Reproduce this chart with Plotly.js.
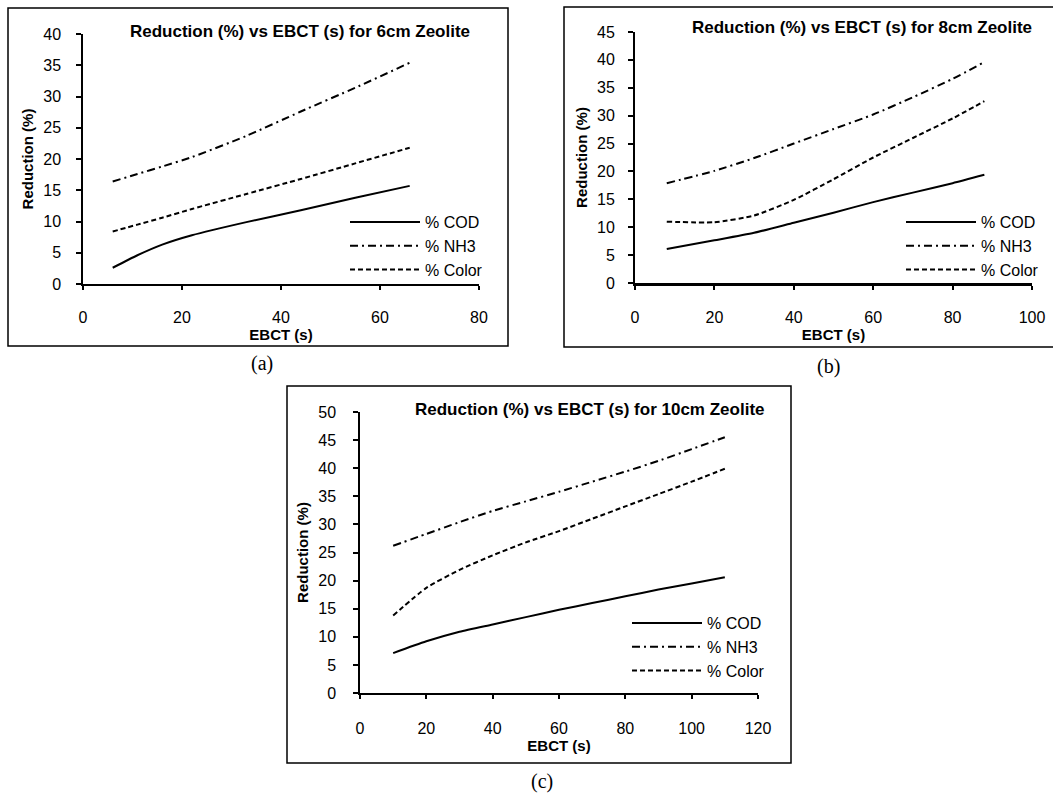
<!DOCTYPE html>
<html>
<head>
<meta charset="utf-8">
<script src="https://cdn.plot.ly/plotly-3.0.1.min.js"></script>
<style>html,body{margin:0;padding:0;background:#fff;}#chart{width:1053px;height:794px;}</style>
</head>
<body>
<div id="chart"></div>
<script>
// ---- Data ----
const ebctA = [6, 11, 16, 22, 33, 44, 55, 66];
const codA = [2.6, 4.6, 6.3, 7.8, 9.9, 11.8, 13.8, 15.7];
const nh3A = [16.4, 17.6, 18.8, 20.3, 23.7, 27.6, 31.4, 35.4];
const colorA = [8.4, 9.5, 10.6, 12.0, 14.4, 16.8, 19.3, 21.8];

const ebctB = [8, 20, 30, 40, 50, 60, 70, 80, 88];
const codB = [6.1, 7.65, 9.0, 10.8, 12.6, 14.5, 16.2, 17.9, 19.4];
const nh3B = [17.9, 20.1, 22.4, 25.0, 27.6, 30.2, 33.3, 36.6, 39.6];
const colorB = [11.0, 10.9, 12.1, 14.9, 18.6, 22.5, 26.0, 29.5, 32.6];

const ebctC = [10, 20, 30, 40, 50, 60, 70, 80, 90, 100, 110];
const codC = [7.1, 9.2, 10.9, 12.2, 13.5, 14.8, 16.0, 17.2, 18.4, 19.5, 20.6];
const nh3C = [26.2, 28.3, 30.4, 32.4, 34.1, 35.8, 37.6, 39.4, 41.3, 43.4, 45.5];
const colorC = [13.8, 18.7, 21.9, 24.5, 26.8, 28.8, 31.0, 33.2, 35.4, 37.6, 39.9];

const seriesNames = ['% COD', '% NH3', '% Color'];
const panelTitles = [
  'Reduction (%) vs EBCT (s) for 6cm Zeolite',
  'Reduction (%) vs EBCT (s) for 8cm Zeolite',
  'Reduction (%) vs EBCT (s) for 10cm Zeolite'
];
const panelLabels = ['(a)', '(b)', '(c)'];
const xTitle = 'EBCT (s)';
const yTitle = 'Reduction (%)';

// ---- Layout helpers (pixel -> paper) ----
const W = 1053, H = 794;
const px = v => v / W;
const py = v => 1 - v / H;
const FONT = 'Liberation Sans, Arial, sans-serif';

const dashes = ['solid', '8px,4px,2px,4px', '5px,3px'];

function makeTraces(xs, ys, xa, ya, legendId) {
  return ys.map((y, i) => ({
    type: 'scatter', mode: 'lines', x: xs, y: y,
    xaxis: xa, yaxis: ya, name: seriesNames[i], legend: legendId,
    line: {color: '#000', width: 2, dash: dashes[i], shape: 'spline', smoothing: 0.6},
    hoverinfo: 'x+y+name'
  }));
}

const data = [].concat(
  makeTraces(ebctA, [codA, nh3A, colorA], 'x', 'y', 'legend'),
  makeTraces(ebctB, [codB, nh3B, colorB], 'x2', 'y2', 'legend2'),
  makeTraces(ebctC, [codC, nh3C, colorC], 'x3', 'y3', 'legend3')
);

function xAxis(dom, range, anchor, lw, labStand, titleStand) {
  return {
    domain: [px(dom[0]), px(dom[1])], range: range, dtick: 20, tick0: 0,
    anchor: anchor, showgrid: false, zeroline: false,
    showline: true, linecolor: '#000', linewidth: lw,
    ticks: 'outside', ticklen: 4, tickwidth: 1.5, tickcolor: '#000',
    ticklabelstandoff: labStand,
    tickfont: {family: FONT, size: 16, color: '#000'},
    title: {text: '<b>' + xTitle + '</b>', font: {family: FONT, size: 15, color: '#000'}, standoff: titleStand},
    fixedrange: true
  };
}
function yAxis(dom, range, anchor, lw, stand) {
  return {
    domain: [py(dom[1]), py(dom[0])], range: range, dtick: 5, tick0: 0,
    anchor: anchor, showgrid: false, zeroline: false,
    showline: true, linecolor: '#000', linewidth: lw,
    ticks: 'outside', ticklen: 5, tickwidth: 1.5, tickcolor: '#000',
    ticklabelstandoff: stand,
    tickfont: {family: FONT, size: 16, color: '#000'},
    title: {text: '<b>' + yTitle + '</b>', font: {family: FONT, size: 15, color: '#000'}, standoff: 6},
    fixedrange: true
  };
}
function legendAt(xpx, ypx) {
  return {
    x: px(xpx), y: py(ypx), xanchor: 'left', yanchor: 'top',
    xref: 'paper', yref: 'paper',
    bgcolor: 'rgba(0,0,0,0)', borderwidth: 0,
    font: {family: FONT, size: 16, color: '#000'},
    itemwidth: 70, tracegroupgap: 0, itemclick: false, itemdoubleclick: false
  };
}
function frame(x0, y0, x1, y1) {
  return {type: 'rect', xref: 'paper', yref: 'paper', x0: px(x0), x1: px(x1), y0: py(y1), y1: py(y0),
    line: {color: '#000', width: 1.5}, fillcolor: 'rgba(0,0,0,0)', layer: 'below'};
}
function titleAnn(text, xpx, ypx) {
  return {text: '<b>' + text + '</b>', x: px(xpx), y: py(ypx), xref: 'paper', yref: 'paper',
    xanchor: 'center', yanchor: 'middle', showarrow: false,
    font: {family: FONT, size: 17, color: '#000'}};
}
function labelAnn(text, xpx, ypx) {
  return {text: text, x: px(xpx), y: py(ypx), xref: 'paper', yref: 'paper',
    xanchor: 'center', yanchor: 'middle', showarrow: false,
    font: {family: 'Liberation Serif, Times New Roman, serif', size: 20, color: '#000'}};
}

const layout = {
  width: W, height: H,
  margin: {l: 0, r: 0, t: 0, b: 0, pad: 0},
  paper_bgcolor: '#fff', plot_bgcolor: 'rgba(0,0,0,0)',
  showlegend: true,
  xaxis: xAxis([83, 479], [0, 80], 'y', 1.5, 14, 0),
  yaxis: yAxis([34, 284], [0, 40], 'x', 1.5, 12),
  xaxis2: xAxis([635, 1032], [0, 100], 'y2', 3, 14, 0),
  yaxis2: yAxis([32, 283], [0, 45], 'x2', 2, 10),
  xaxis3: xAxis([360, 758], [0, 120], 'y3', 1.5, 16, 3),
  yaxis3: yAxis([412, 693], [0, 50], 'x3', 1.5, 14),
  legend: legendAt(345, 205),
  legend2: legendAt(901, 205),
  legend3: legendAt(627, 606),
  shapes: [frame(8, 8, 508, 346), frame(564, 7, 1060, 347), frame(287, 386, 791, 763)],
  annotations: [
    titleAnn(panelTitles[0], 300, 31),
    titleAnn(panelTitles[1], 862, 28),
    titleAnn(panelTitles[2], 590, 409),
    labelAnn(panelLabels[0], 262, 364),
    labelAnn(panelLabels[1], 828, 366),
    labelAnn(panelLabels[2], 542, 781)
  ]
};

Plotly.newPlot('chart', data, layout, {displayModeBar: false, staticPlot: false, responsive: false});
</script>
</body>
</html>
